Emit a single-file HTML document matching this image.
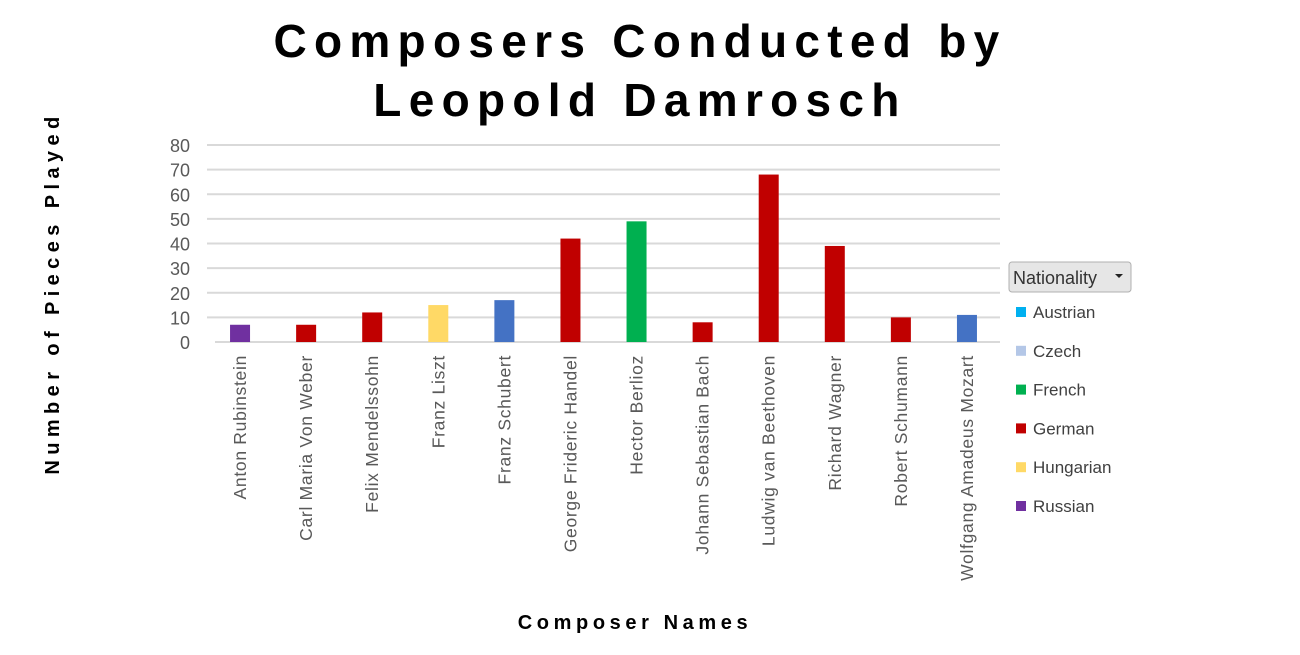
<!DOCTYPE html>
<html><head><meta charset="utf-8"><style>
body{margin:0;background:#fff;width:1300px;height:650px;overflow:hidden;font-family:"Liberation Sans",sans-serif}
</style></head><body>
<svg id="chart" width="1300" height="650" xmlns="http://www.w3.org/2000/svg">
<text x="640" y="57" text-anchor="middle" font-size="46" font-weight="bold" letter-spacing="7.3" font-family="Liberation Sans,sans-serif">Composers Conducted by</text>
<text x="640" y="116" text-anchor="middle" font-size="46" font-weight="bold" letter-spacing="7.3" font-family="Liberation Sans,sans-serif">Leopold Damrosch</text>
<text transform="translate(59,293) rotate(-90)" text-anchor="middle" font-size="20" font-weight="bold" letter-spacing="5.4">Number of Pieces Played</text>
<text x="635" y="629" text-anchor="middle" font-size="20" font-weight="bold" letter-spacing="4.6">Composer Names</text>
<g id="grid"></g><g id="bars"></g><g id="xlabels"></g>
<g>
<rect x="1009" y="262" width="122" height="30" rx="3" fill="#e6e6e6" stroke="#b0b0b0"/>
<text x="1013" y="284" font-size="18" fill="#333">Nationality</text>
<path d="M1115 274 l8 0 l-4 4z" fill="#222"/>
<g id="legend-items"></g>
</g>
</svg>
<script>
const categories=["Anton Rubinstein","Carl Maria Von Weber","Felix Mendelssohn","Franz Liszt","Franz Schubert","George Frideric Handel","Hector Berlioz","Johann Sebastian Bach","Ludwig van Beethoven","Richard Wagner","Robert Schumann","Wolfgang Amadeus Mozart"];
const values=[7,7,12,15,17,42,49,8,68,39,10,11];
const nations=["Russian","German","German","Hungarian","Austrian2","German","French","German","German","German","German","Austrian2"];
const yTicks=[0,10,20,30,40,50,60,70,80];
const legendNames=["Austrian","Czech","French","German","Hungarian","Russian"];
const legendColors=["#00b0f0","#b4c7e7","#00b050","#c00000","#ffd966","#7030a0"];
const barColors={Russian:"#7030a0",German:"#c00000",Hungarian:"#ffd966",Austrian2:"#4472c4",French:"#00b050"};
const NS="http://www.w3.org/2000/svg";
const x0=207,x1=1000,y0=342,y80=145;
const y=v=>y0-(v/80)*(y0-y80);
const bw=(x1-x0)/categories.length;
const xc=i=>x0+bw*(i+0.5);
function mk(t,a,p){const e=document.createElementNS(NS,t);for(const k in a)e.setAttribute(k,a[k]);p.appendChild(e);return e;}
const g=document.getElementById('grid');
yTicks.forEach(t=>{
 const l=mk('line',{x1:t===0?215:x0,x2:x1,y1:y(t),y2:y(t),stroke:'#d9d9d9','stroke-width':2},g);
 
 
 const tx=mk('text',{x:190,y:y(t)+7,'text-anchor':'end','font-size':18,fill:'#595959'},g);
 tx.textContent=t;
 
 
});
const b=document.getElementById('bars'),xl=document.getElementById('xlabels');
categories.forEach((c,i)=>{
 const r=mk('rect',{x:xc(i)-10,y:y(values[i]),width:20,height:y0-y(values[i]),fill:barColors[nations[i]]},b);
 
 
 const t=mk('text',{transform:`translate(${xc(i)+6},355) rotate(-90)`,'text-anchor':'end','font-size':17.5,'letter-spacing':0.7,fill:'#595959'},xl);
 t.textContent=c;
 
 
});
const lg=document.getElementById('legend-items');
legendNames.forEach((n,i)=>{
 const yy=312+i*38.8;
 const s=mk('rect',{x:1016,y:yy-5,width:10,height:10,fill:legendColors[i]},lg);
 
 
 const t=mk('text',{x:1033,y:yy+6,'font-size':17,fill:'#404040'},lg);
 t.textContent=n;
 
 
});
</script>
</body></html>
